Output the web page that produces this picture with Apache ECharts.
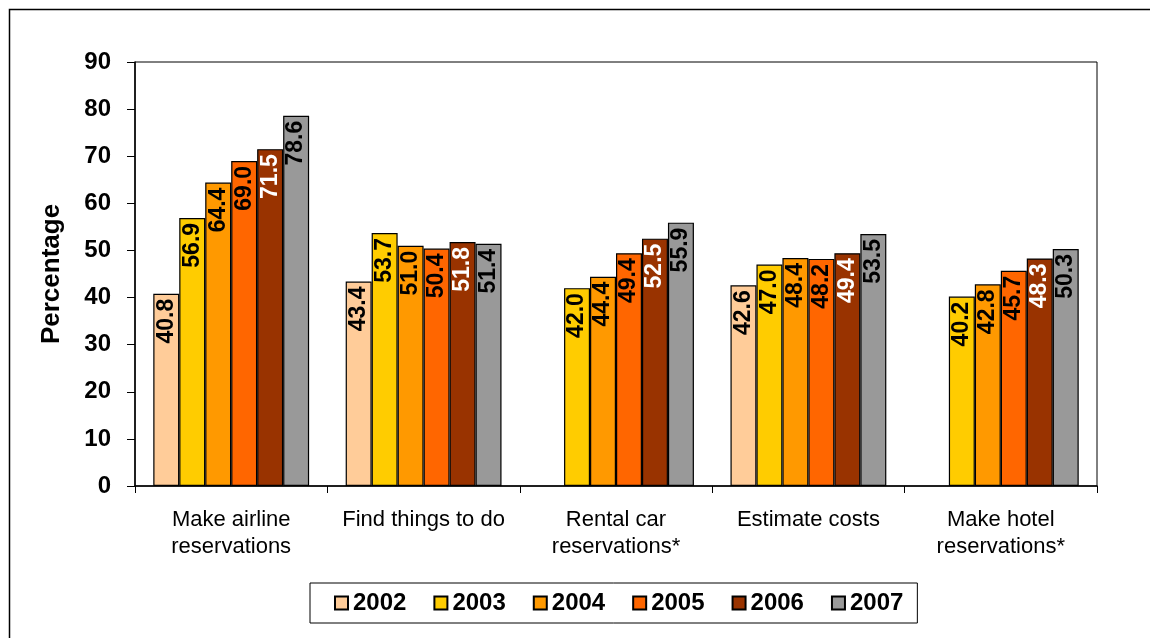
<!DOCTYPE html>
<html>
<head>
<meta charset="utf-8">
<script src="https://cdn.jsdelivr.net/npm/echarts@6/dist/echarts.min.js"></script>
<style>
html,body{margin:0;padding:0;background:#fff;}
#c{width:1150px;height:638px;}
</style>
</head>
<body>
<div id="c"></div>
<script>
const categories = ['Make airline\nreservations', 'Find things to do', 'Rental car\nreservations*', 'Estimate costs', 'Make hotel\nreservations*'];
const years = ['2002', '2003', '2004', '2005', '2006', '2007'];
const v2002 = [40.8, 43.4, null, 42.6, null];
const v2003 = [56.9, 53.7, 42.0, 47.0, 40.2];
const v2004 = [64.4, 51.0, 44.4, 48.4, 42.8];
const v2005 = [69.0, 50.4, 49.4, 48.2, 45.7];
const v2006 = [71.5, 51.8, 52.5, 49.4, 48.3];
const v2007 = [78.6, 51.4, 55.9, 53.5, 50.3];
const yTicks = [0, 10, 20, 30, 40, 50, 60, 70, 80, 90];

const seriesValues = [v2002, v2003, v2004, v2005, v2006, v2007];
const colors = ['#FFCC99', '#FFCC00', '#FF9900', '#FF6600', '#993300', '#999999'];
const labelColors = ['#000', '#000', '#000', '#000', '#fff', '#000'];
const FONT = 'Liberation Sans, Arial, sans-serif';

const chart = echarts.init(document.getElementById('c'));
chart.setOption({
  backgroundColor: '#fff',
  animation: false,
  graphic: [{
    type: 'rect', left: 7, top: 7, z: -10,
    shape: { width: 1300, height: 800 },
    style: { fill: 'none', stroke: '#000', lineWidth: 1.5 }
  }],
  grid: {
    left: 135, right: 53, top: 62, bottom: 152,
    show: true, borderColor: '#000', borderWidth: 1, backgroundColor: 'transparent'
  },
  legend: {
    bottom: 15, left: 310,
    data: years,
    itemWidth: 13, itemHeight: 13, itemGap: 27,
    icon: 'rect',
    borderColor: '#000', borderWidth: 1,
    padding: [8, 14, 8, 24],
    textStyle: { fontFamily: FONT, fontSize: 24, fontWeight: 'bold', color: '#000' }
  },
  xAxis: {
    type: 'category',
    data: categories,
    axisLine: { lineStyle: { color: '#000', width: 1.5 } },
    axisTick: { show: true, interval: 0, length: 7, lineStyle: { color: '#000', width: 1 } },
    axisLabel: { interval: 0, margin: 20, fontFamily: FONT, fontSize: 22, color: '#000', lineHeight: 27 }
  },
  yAxis: {
    type: 'value',
    min: yTicks[0], max: yTicks[yTicks.length - 1], interval: 10,
    name: 'Percentage',
    nameLocation: 'middle', nameGap: 70,
    nameTextStyle: { fontFamily: FONT, fontSize: 26, fontWeight: 'bold', color: '#000' },
    axisLine: { show: true, lineStyle: { color: '#000', width: 1.5 } },
    axisTick: { show: true, length: 8, lineStyle: { color: '#000' } },
    splitLine: { show: false },
    axisLabel: { margin: 24, fontFamily: FONT, fontSize: 24, fontWeight: 'bold', color: '#000' }
  },
  series: years.map((y, i) => ({
    name: y,
    type: 'bar',
    data: seriesValues[i],
    barGap: '0%',
    barCategoryGap: '19%',
    itemStyle: { color: colors[i], borderColor: '#000', borderWidth: 1.2 },
    label: {
      show: true,
      position: 'insideTop',
      rotate: 90,
      align: 'right',
      verticalAlign: 'middle',
      distance: 5,
      formatter: p => p.value == null ? '' : Number(p.value).toFixed(1),
      fontFamily: FONT, fontSize: 23, fontWeight: 'bold',
      color: labelColors[i]
    }
  }))
});
</script>
</body>
</html>
